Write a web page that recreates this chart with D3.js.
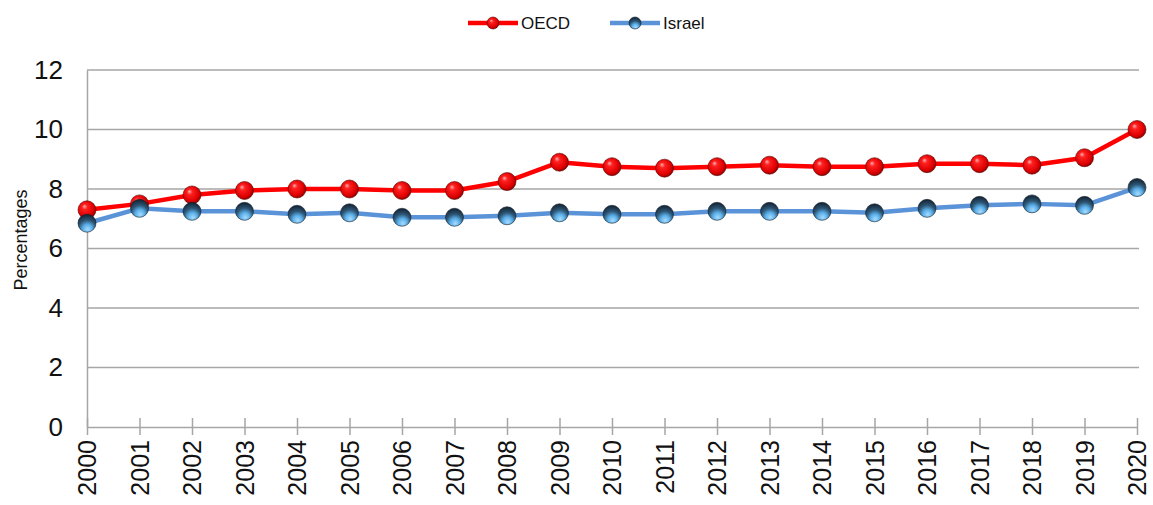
<!DOCTYPE html>
<html>
<head>
<meta charset="utf-8">
<script src="https://cdn.jsdelivr.net/npm/d3@7/dist/d3.min.js"></script>
<style>
  html, body { margin: 0; padding: 0; background: #fff; }
  svg { display: block; font-family: "Liberation Sans", Arial, sans-serif; }
</style>
</head>
<body>
<svg id="chart" width="1153" height="505"></svg>
<script>
// Years on the horizontal axis
const years = ["2000","2001","2002","2003","2004","2005","2006","2007","2008","2009","2010",
               "2011","2012","2013","2014","2015","2016","2017","2018","2019","2020"];
// Percentages per year
const oecdValues   = [7.3, 7.5, 7.8, 7.95, 8.0, 8.0, 7.95, 7.95, 8.25, 8.9, 8.75,
                      8.7, 8.75, 8.8, 8.75, 8.75, 8.85, 8.85, 8.8, 9.05, 10.0];
const israelValues = [6.85, 7.35, 7.25, 7.25, 7.15, 7.2, 7.05, 7.05, 7.1, 7.2, 7.15,
                      7.15, 7.25, 7.25, 7.25, 7.2, 7.35, 7.45, 7.5, 7.45, 8.05];
const yTicks = [0, 2, 4, 6, 8, 10, 12];
const seriesNames = ["OECD", "Israel"];

const svg = d3.select("#chart");
const m = { left: 87, right: 1137, top: 70, bottom: 427 };

const x = d3.scalePoint().domain(years).range([m.left, m.right]);
const y = d3.scaleLinear().domain([0, 12]).range([m.bottom, m.top]);

// Sphere-like marker fills
const defs = svg.append("defs");
const redGrad = defs.append("radialGradient").attr("id", "gRed")
  .attr("cx", "45%").attr("cy", "45%").attr("r", "60%").attr("fx", "35%").attr("fy", "30%");
[["0%", "#ffb0b0"], ["25%", "#ff2020"], ["75%", "#dd0000"], ["100%", "#7a0000"]]
  .forEach(([o, c]) => redGrad.append("stop").attr("offset", o).attr("stop-color", c));
const blueGrad = defs.append("radialGradient").attr("id", "gBlue")
  .attr("cx", "50%").attr("cy", "80%").attr("r", "75%").attr("fx", "55%").attr("fy", "85%");
[["0%", "#a8dcff"], ["35%", "#5aaee8"], ["65%", "#2d5675"], ["100%", "#16283a"]]
  .forEach(([o, c]) => blueGrad.append("stop").attr("offset", o).attr("stop-color", c));

// Horizontal gridlines
svg.append("g").selectAll("line").data(yTicks.filter(t => t > 0)).join("line")
  .attr("x1", m.left).attr("x2", m.right + 2)
  .attr("y1", d => y(d)).attr("y2", d => y(d))
  .attr("stroke", "#a6a6a6").attr("stroke-width", 1.5);

// Y axis
const yAxis = svg.append("g").attr("transform", `translate(${m.left},0)`)
  .call(d3.axisLeft(y).tickValues(yTicks).tickSize(0).tickPadding(24));
yAxis.select(".domain").attr("stroke", "#a6a6a6").attr("stroke-width", 1.5);
yAxis.selectAll("text").attr("font-size", 26).attr("fill", "#111")
  .attr("font-family", "'Liberation Sans', Arial, sans-serif");

// X axis with ticks crossing the baseline
const xAxis = svg.append("g").attr("transform", `translate(0,${m.bottom})`)
  .call(d3.axisBottom(x).tickSizeInner(8).tickSizeOuter(0));
xAxis.select(".domain").attr("stroke", "#a6a6a6").attr("stroke-width", 1.5);
xAxis.selectAll(".tick line").attr("stroke", "#a6a6a6").attr("stroke-width", 1.5).attr("y1", -9);
xAxis.selectAll("text")
  .attr("font-size", 25).attr("fill", "#111")
  .attr("font-family", "'Liberation Sans', Arial, sans-serif")
  .attr("text-anchor", "end")
  .attr("transform", "rotate(-90)")
  .attr("x", -13).attr("y", 0).attr("dy", "0.35em");

// Y axis title
svg.append("text")
  .attr("transform", "translate(27,240) rotate(-90)")
  .attr("text-anchor", "middle")
  .attr("font-size", 18).attr("fill", "#111")
  .text("Percentages");

const line = d3.line().x((d, i) => x(years[i])).y(d => y(d));

const series = [
  { name: seriesNames[0], values: oecdValues, stroke: "#ff0000", fill: "url(#gRed)", edge: "#5a0000" },
  { name: seriesNames[1], values: israelValues, stroke: "#5b93d8", fill: "url(#gBlue)", edge: "#12202c" }
];

series.forEach(s => {
  svg.append("path").datum(s.values)
    .attr("d", line).attr("fill", "none")
    .attr("stroke", s.stroke).attr("stroke-width", 4.5)
    .attr("stroke-linejoin", "round");
});
series.forEach(s => {
  svg.append("g").selectAll("circle").data(s.values).join("circle")
    .attr("cx", (d, i) => x(years[i])).attr("cy", d => y(d)).attr("r", 9)
    .attr("fill", s.fill).attr("stroke", s.edge).attr("stroke-opacity", 0.6).attr("stroke-width", 1);
});

// Legend
const legendPos = [468, 610];
series.forEach((s, i) => {
  const g = svg.append("g").attr("transform", `translate(${legendPos[i]},23)`);
  g.append("line").attr("x1", 0).attr("x2", 50).attr("y1", 0).attr("y2", 0)
    .attr("stroke", s.stroke).attr("stroke-width", 4.5);
  g.append("circle").attr("cx", 25).attr("cy", 0).attr("r", 6)
    .attr("fill", s.fill).attr("stroke", s.edge).attr("stroke-opacity", 0.6);
  g.append("text").attr("x", 53).attr("y", 0).attr("dy", "0.36em")
    .attr("font-size", 17).attr("fill", "#111").text(s.name);
});
</script>
</body>
</html>
